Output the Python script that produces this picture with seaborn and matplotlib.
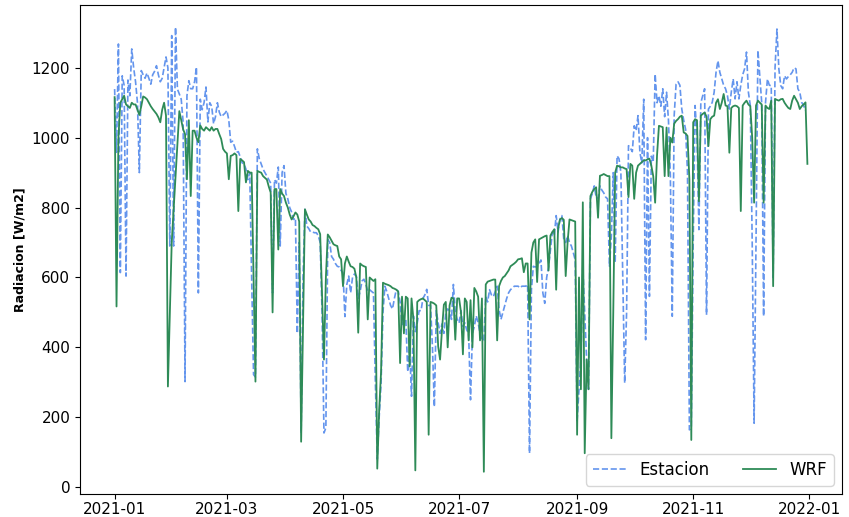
import numpy as np
import pandas as pd
import matplotlib
matplotlib.use('Agg')
import matplotlib.pyplot as plt
import matplotlib.dates as mdates
import seaborn as sns

nan = np.nan

# daily values 2021 (W/m2)
fechas = pd.date_range('2021-01-01', '2021-12-31', freq='D')

estacion = [
    # ene
    1139, 958, 1268, 614, 1177, 1150, 604, 1165, 1120, 1254,
    1200, 1160, 1100, 900, 1192, 1180, 1170, 1185, 1170, 1153,
    1180, 1190, 1206, 1180, 1160, 1170, 1200, 1231, 1200, 690, 1292,
    # feb
    690, 1316, 1139, 1125, 1110, 1044, 302, 1120, 1163, 1140,
    1140, 1160, 1202, 556, 1110, 1080, 1100, 1145, 1045, 1100,
    1090, 1040, 1060, 1100, 1073, 1060, 1065, 1070,
    # mar
    1078, 1050, 987, 990, 975, 958, 960, 945, 928, 925,
    910, 880, 900, 600, 322, 315, 968, 940, 925, 910,
    900, 890, 880, 870, 556, 880, 870, 916, 690, 900, 920,
    # abr
    840, 825, 800, 787, 766, 770, 440, 700, 155, 600,
    795, 747, 740, 730, 730, 728, 728, 720, 700, 500,
    155, 170, 709, 700, 660, 652, 640, 632, 630, 620,
    # may
    613, 488, 580, 604, 556, 600, 610, 604, 540, 560,
    590, 595, 580, 560, 565, 560, 556, 300, 80, 200,
    298, 500, 575, 560, 540, 520, 510, 540, 565, 560, 530,
    # jun
    465, 480, 480, 330, 400, 260, 490, 445, 470, 505,
    505, 540, 550, 566, 520, 520, 400, 230, 505, 470,
    440, 467, 440, 500, 510, 505, 480, 580, 500, 480,
    # jul
    470, 505, 460, 470, 450, 440, 250, 440, 460, 490,
    470, 440, 420, 420, 545, 530, 565, 550, 545, 560,
    575, 508, 480, 500, 520, 540, 556, 565, 570, 575, 575,
    # ago
    575, 570, 575, 575, 575, 580, 97, 565, 632, 630,
    632, 640, 650, 556, 526, 600, 630, 680, 730, 720,
    777, 730, 767, 777, 709, 700, 720, 700, 690, 671, 650,
    # sep
    190, 280, 368, 632, 500, 365, 280, 825, 840, 862,
    830, 825, 862, 850, 842, 830, 825, 632, 720, 900,
    642, 948, 940, 900, 600, 298, 500, 977, 970, 960,
    # oct
    1034, 1020, 1063, 957, 928, 1110, 422, 1000, 546, 947,
    930, 1182, 1100, 1120, 1090, 1140, 1060, 1130, 1050, 890,
    489, 1063, 1153, 1160, 1150, 1082, 1050, 1024, 900, 164, 170,
    # nov
    700, 1092, 1000, 737, 1100, 1120, 1140, 493, 1082, 1090,
    1101, 1130, 1187, 1220, 1187, 1168, 1150, 1140, 1120, 1082,
    1130, 1168, 1111, 1160, 1111, 1150, 1180, 1197, 1245, 1130,
    # dic
    1092, 700, 183, 700, 1250, 1177, 1100, 489, 1101, 1168,
    1150, 1149, 600, 1200, 1311, 1197, 1149, 1140, 1177, 1168,
    1175, 1180, 1187, 1200, 1197, 1140, 1130, 1101, 1092, 1078, nan,
]

wrf = [
    # ene
    1116, 517, 1000, 1100, 1110, 1120, 1095, 1090, 1085, 1100,
    1095, 1095, 1080, 1065, 1090, 1118, 1115, 1110, 1100, 1090,
    1082, 1075, 1068, 1058, 1044, 1080, 1100, 1063, 288, 500, 700,
    # feb
    nan, nan, nan, 1076, 1050, 1024, 1010, 881, 1050, 833,
    1020, 1020, 1000, 987, 1035, 1025, 1020, 1030, 1025, 1020,
    1030, 1020, 1025, 1025, 1010, 996, 968, 960,
    # mar
    955, 881, 948, 950, 955, 950, 790, 939, 935, 930,
    872, 905, 900, 900, 600, 302, 905, 902, 900, 890,
    885, 880, 860, 843, 500, 853, 853, 680, 853, 840, 833,
    # abr
    814, 800, 780, 766, 775, 786, 780, 760, 130, 460,
    795, 780, 766, 760, 750, 747, 742, 738, 724, 550,
    365, 600, 723, 715, 705, 695, 692, 690, 660, 652,
    # may
    575, 640, 660, 645, 632, 630, 625, 600, 442, 640,
    635, 632, 630, 480, 600, 595, 590, 595, 53, 220,
    330, 585, 582, 580, 578, 575, 570, 568, 565, 560, 355,
    # jun
    545, 440, 545, 540, 345, 540, 480, 48, 530, 535,
    538, 540, 535, 530, 150, 530, 528, 525, 520, 403,
    365, 450, 522, 530, 400, 520, 542, 540, 422, 540,
    # jul
    540, 500, 380, 540, 530, 420, 535, 400, 570, 560,
    545, 420, 540, 44, 580, 588, 590, 592, 594, 594,
    420, 575, 590, 600, 604, 612, 620, 632, 636, 640, 645,
    # ago
    652, 653, 655, 615, 640, 640, 480, 671, 700, 709,
    587, 709, 712, 715, 718, 720, 620, 720, 730, 738,
    565, 740, 766, 770, 765, 604, 700, 766, 764, 762, 760,
    # sep
    150, 600, 280, 815, 97, 365, 280, 833, 845, 853,
    858, 771, 891, 893, 896, 893, 890, 890, 140, 500,
    900, 920, 918, 915, 915, 912, 910, 830, 925, 920,
    # oct
    825, 900, 920, 925, 930, 935, 935, 938, 940, 920,
    890, 814, 950, 1034, 1032, 1030, 890, 1029, 890, 1000,
    986, 1040, 1048, 1053, 1060, 1063, 1015, 1012, 1005, 880, 135,
    # nov
    1044, 1053, 1050, 818, 1063, 1068, 1072, 1060, 976, 1053,
    1060, 1063, 1100, 1110, 1082, 1100, 1125, 1092, 1090, 957,
    1085, 1090, 1092, 1090, 1085, 790, 1092, 1100, 1106, 1095,
    # dic
    1090, 1000, 814, 1092, 1106, 1100, 1095, 814, 1092, 1085,
    1082, 1106, 575, 1111, 1108, 1106, 1110, 1111, 1100, 1092,
    1085, 1082, 1106, 1120, 1110, 1100, 1082, 1090, 1095, 1101, 925,
]

df = pd.DataFrame({'fecha': fechas, 'Estacion': estacion, 'WRF': wrf})

fig, ax = plt.subplots(figsize=(8.49, 5.17), dpi=100)
fig.subplots_adjust(left=0.0942, right=0.9918, top=0.9903, bottom=0.0445)

sns.lineplot(data=df, x='fecha', y='Estacion', ax=ax, color='cornflowerblue',
             linestyle='--', linewidth=1.2, label='Estacion')
sns.lineplot(data=df, x='fecha', y='WRF', ax=ax, color='seagreen',
             linewidth=1.3, label='WRF')

ax.xaxis.set_major_locator(mdates.MonthLocator(interval=2))
ax.xaxis.set_major_formatter(mdates.DateFormatter('%Y-%m'))
ax.set_xlabel('')
ax.set_ylabel('Radiacion [W/m2]', fontsize=9, fontweight='bold')
ax.tick_params(labelsize=11)
ax.tick_params(axis='x', pad=2)
ax.legend(loc='lower right', ncol=2, fontsize=12)

fig.savefig('out.png', dpi=100)
